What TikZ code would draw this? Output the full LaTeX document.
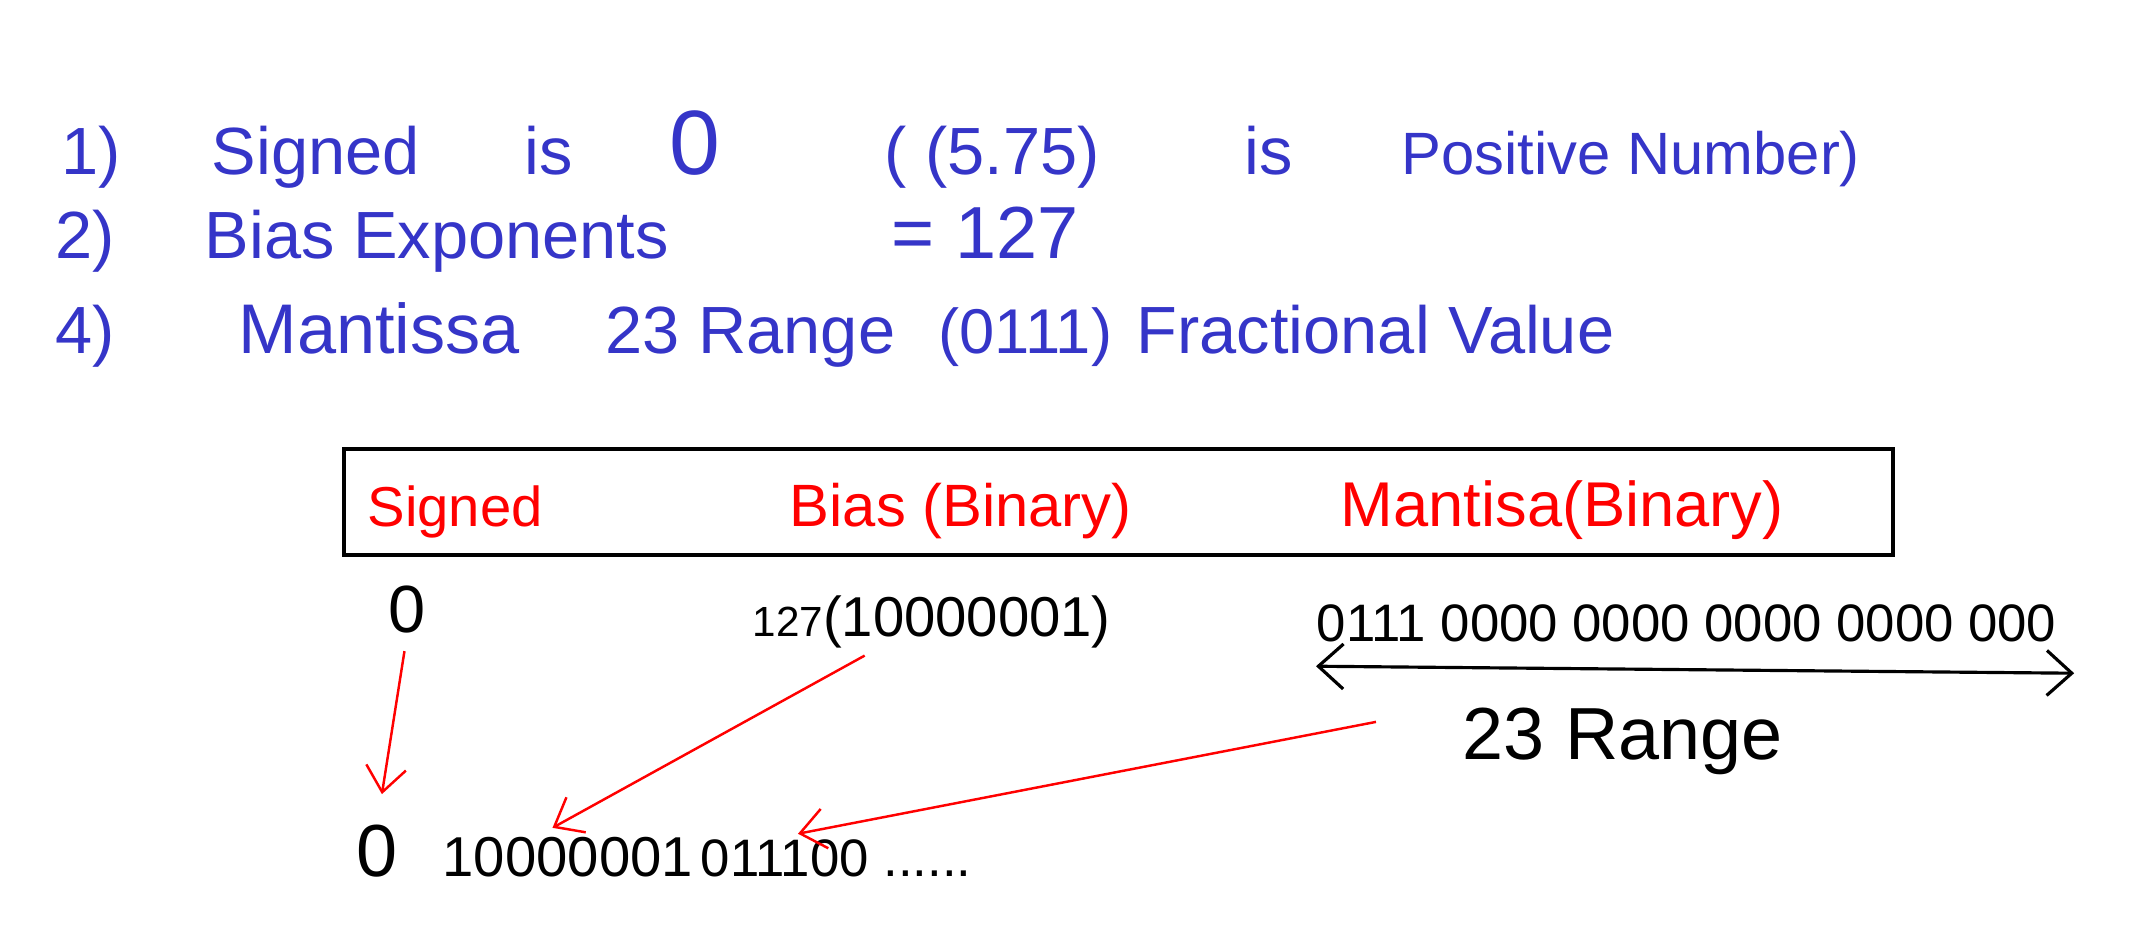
\documentclass[tikz,border=0pt]{standalone}
\usepackage{fontspec}
\setmainfont{Liberation Sans}
\usepackage{tikz}
\usetikzlibrary{arrows.meta,calc}
\definecolor{handblue}{RGB}{53,53,200}
\definecolor{handred}{RGB}{255,0,0}

\begin{document}
\begin{tikzpicture}[
  note/.style={text=handblue, anchor=base west, inner sep=0pt, font=\fontsize{19}{22}\selectfont},
  head/.style={text=handred, anchor=base west, inner sep=0pt, font=\fontsize{17}{20}\selectfont},
  val/.style={anchor=base west, inner sep=0pt, font=\fontsize{15}{18}\selectfont},
  redarrow/.style={-{Straight Barb[length=2.5mm,width=4mm]}, handred, line width=0.7pt},
  span/.style={{Straight Barb[length=2.5mm,width=4.5mm]}-{Straight Barb[length=2.5mm,width=4.5mm]}, line width=0.9pt}
]
\useasboundingbox (0,0) rectangle (21.32,9.31);

% notes
\node[note] (n1) at (0.61,7.57) {1)};
\node[note] (signed) at (2.11,7.57) {Signed};
\node[note] (is1) at (5.24,7.57) {is};
\node[note, font=\fontsize{26}{30}\selectfont] (zero) at (6.69,7.57) {0};
\node[note] (val575) at (8.84,7.57) {( (5.75)};
\node[note] (is2) at (12.44,7.57) {is};
\node[note, font=\fontsize{17}{20}\selectfont] (positive) at (14.01,7.57) {Positive Number)};

\node[note] (n2) at (0.55,6.73) {2)};
\node[note] (biasexp) at (2.04,6.73) {Bias Exponents};
\node[note, font=\fontsize{21}{24}\selectfont] (eq127) at (8.91,6.73) {= 127};

\node[note] (n4) at (0.55,5.78) {4)};
\node[note, font=\fontsize{20}{24}\selectfont] (mantissa) at (2.38,5.78) {Mantissa};
\node[note] (range23) at (6.05,5.78) {23 Range};
\node[note, font=\fontsize{18}{22}\selectfont] (frac0111) at (9.38,5.78) {(0111)};
\node[note] (fracval) at (11.36,5.78) {Fractional Value};

% header box
\node[draw, line width=0.9pt, minimum width=15.49cm, minimum height=1.06cm, inner sep=0pt] (box) at (11.185,4.29) {};
\node[head, font=\fontsize{16}{20}\selectfont] (hsign) at (3.67,4.05) {Signed};
\node[head] (hbias) at (7.89,4.05) {Bias (Binary)};
\node[head, font=\fontsize{18}{22}\selectfont] (hmant) at (13.40,4.05) {Mantisa(Binary)};

% values
\node[val, font=\fontsize{19}{22}\selectfont] (vsign) at (3.88,2.99) {0};
\node[val, font=\fontsize{16}{20}\selectfont] (vbias) at (7.52,2.95) {{\fontsize{12}{14}\selectfont 127}(10000001)};
\node[val] (vmant) at (13.16,2.90) {0111 0000 0000 0000 0000 000};
\draw[span] ([yshift=-0.24cm]vmant.south west) -- ([xshift=0.17cm,yshift=-0.31cm]vmant.south east);
\node[val, font=\fontsize{21}{24}\selectfont] (rangelbl) at (14.62,1.72) {23 Range};

% result
\node[val, font=\fontsize{21}{24}\selectfont] (bsign) at (3.56,0.55) {0};
\node[val, font=\fontsize{16}{20}\selectfont] (bexp) at (4.42,0.55) {10000001};
\node[val] (bman) at (7.00,0.55) {011100 ......};

\draw[redarrow, shorten <=0.18cm, shorten >=0.3cm] (vsign.south) -- (bsign.north);
\draw[redarrow, shorten <=0.15cm, shorten >=0.17cm] ($(vbias.south west)!0.35!(vbias.south east)$) -- ($(bexp.north west)!0.38!(bexp.north east)$);
\draw[redarrow, shorten >=0.25cm] ([xshift=-0.86cm,yshift=0.19cm]rangelbl.west) -- ($(bman.north west)!0.27!(bman.north east)$);
\end{tikzpicture}
\end{document}
